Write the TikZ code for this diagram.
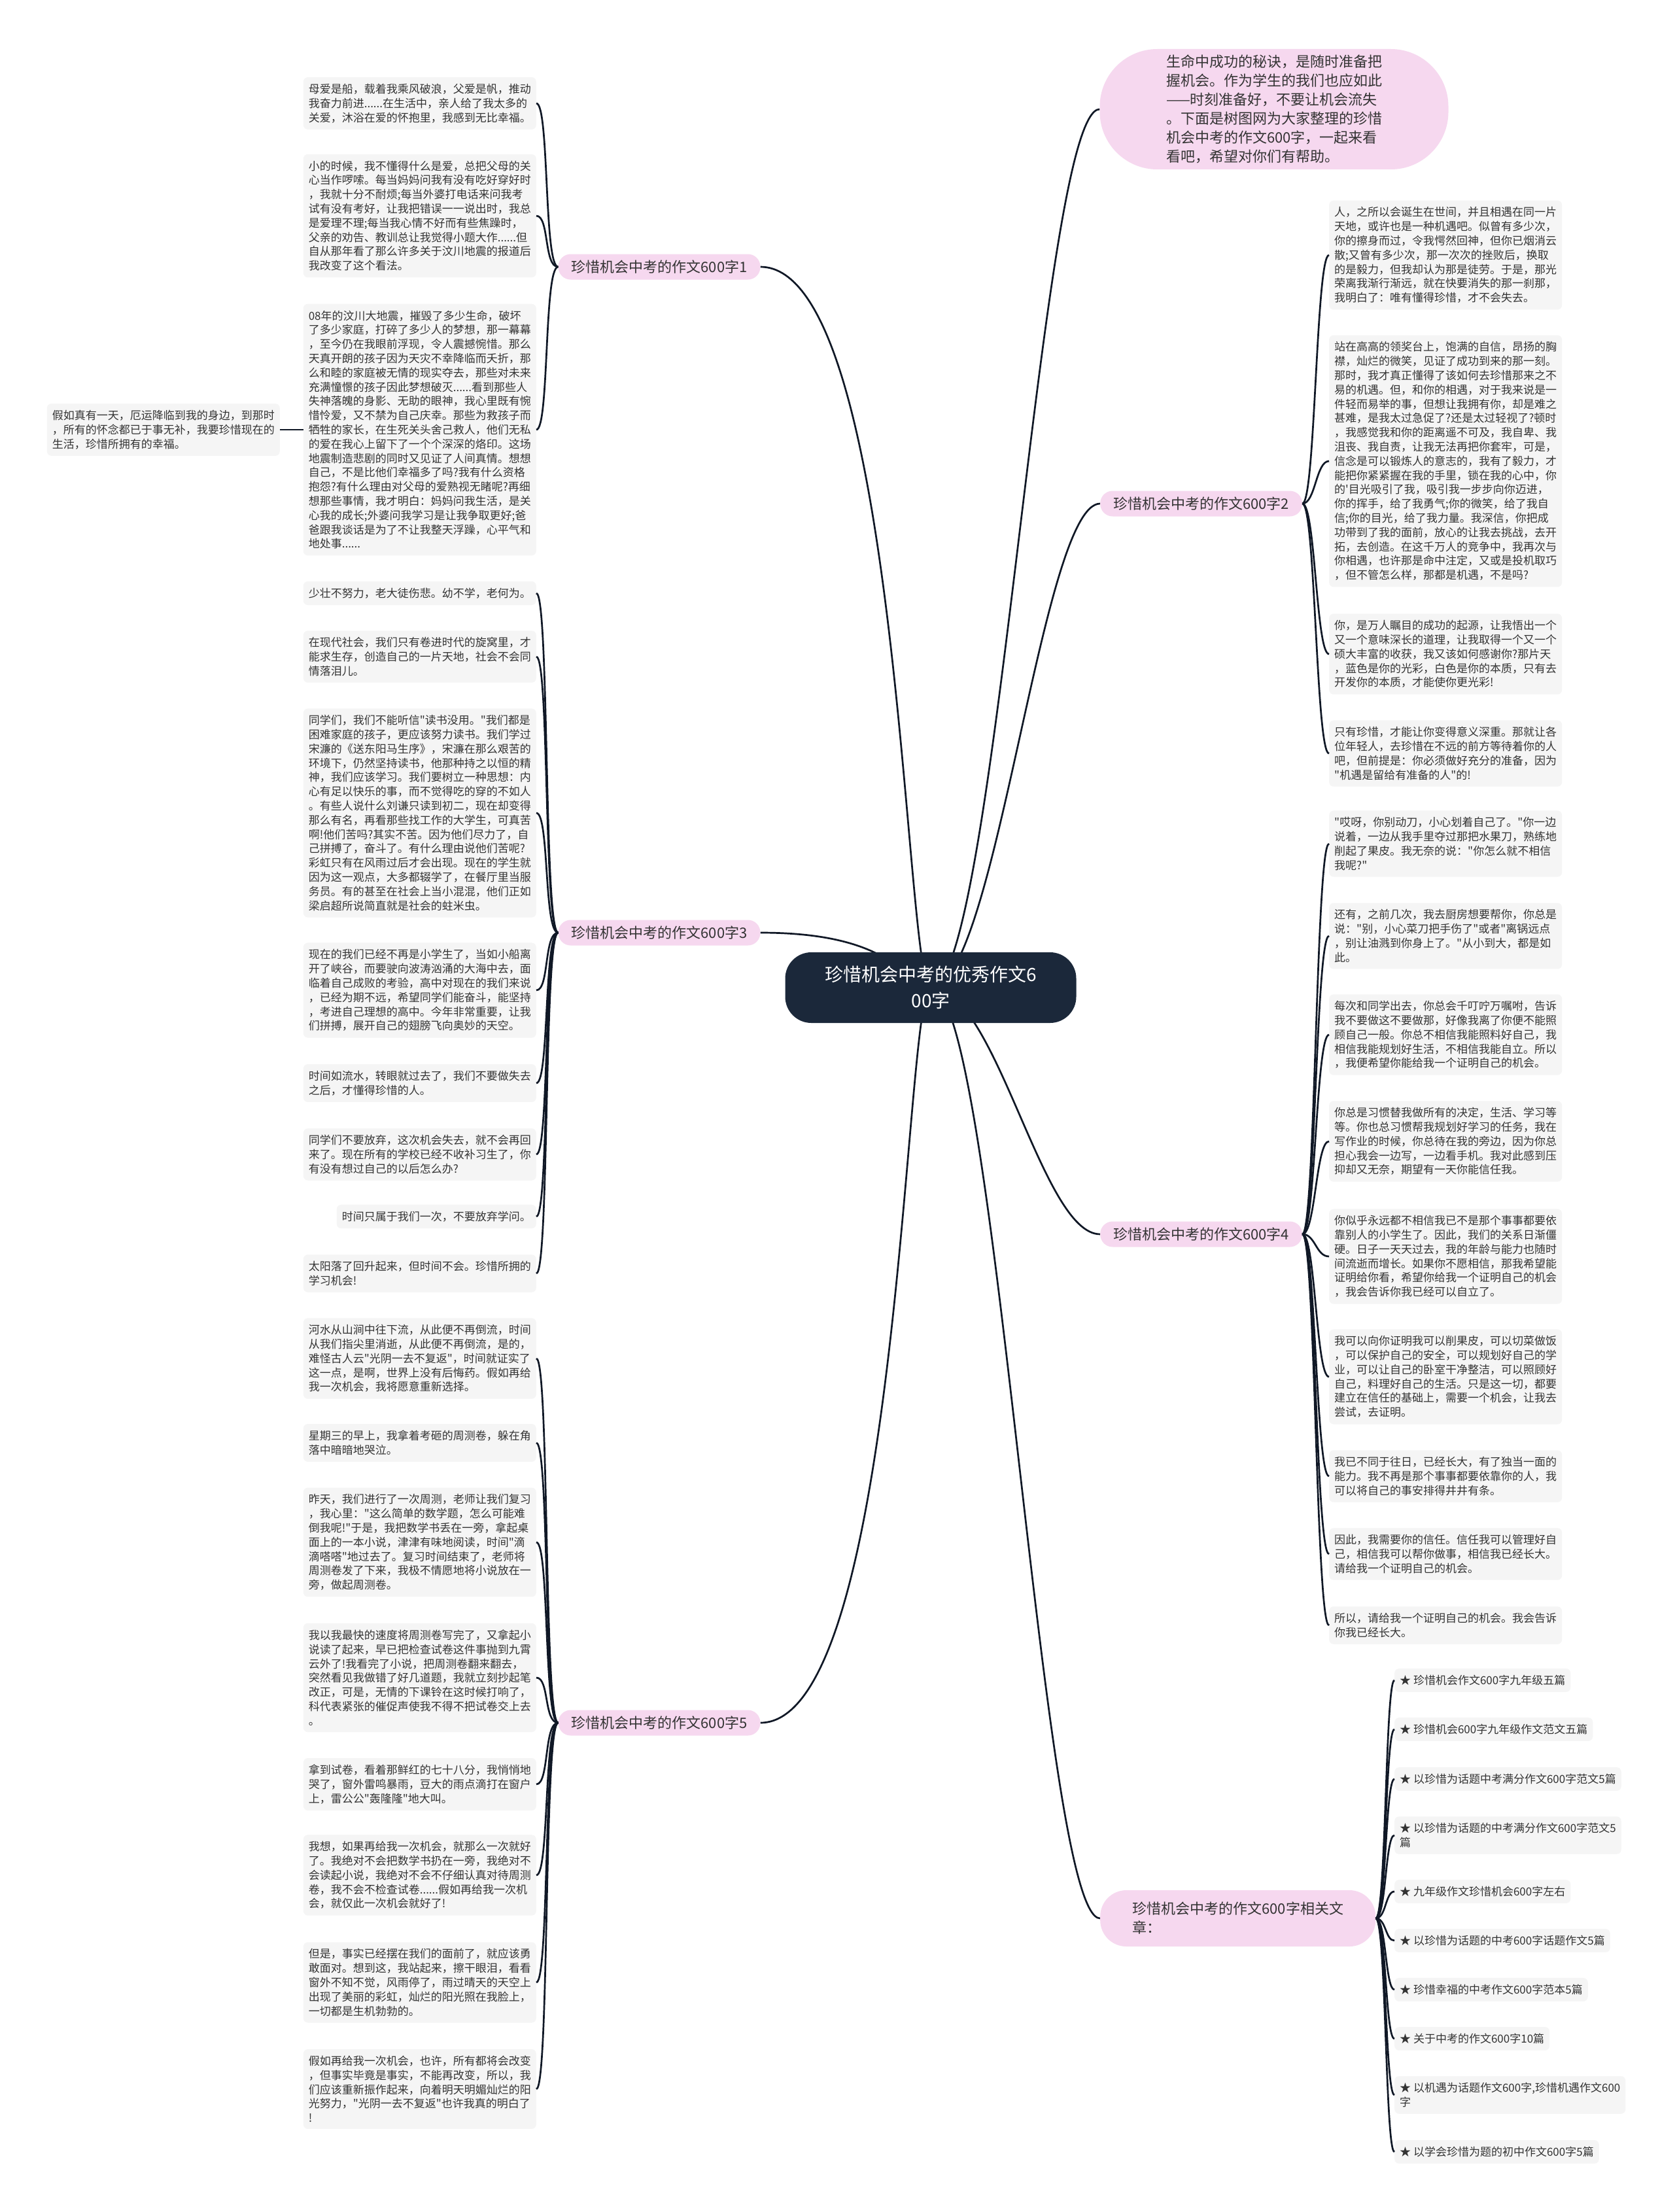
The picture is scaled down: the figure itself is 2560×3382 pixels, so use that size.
\documentclass[tikz,border=0pt]{standalone}
\usepackage{fontspec}
\usepackage{xcolor}
\usepackage{tikz}
\usetikzlibrary{positioning, backgrounds}
\newfontfamily\cjk{Noto Sans CJK SC}
\definecolor{rootnavy}{RGB}{27, 40, 58}
\definecolor{branchpink}{RGB}{246, 216, 239}
\definecolor{leafgray}{RGB}{245, 245, 245}
\definecolor{inkgray}{RGB}{51, 51, 51}
\definecolor{linenavy}{RGB}{16, 24, 38}

\begin{document}
\begin{tikzpicture}[x=1pt, y=-1pt,
    root/.style={fill=rootnavy, text=white, rounded corners=40pt, minimum width=445pt,
                 minimum height=108pt, align=center, font=\cjk\fontsize{28}{40}\selectfont},
    branch/.style={fill=branchpink, text=inkgray, rounded corners=19pt, minimum height=39pt,
                   inner xsep=20pt, inner ysep=5pt, align=left, font=\cjk\fontsize{22}{29}\selectfont},
    leaf/.style={fill=leafgray, text=inkgray, rounded corners=7pt, inner xsep=8pt,
                 inner ysep=10pt, align=left, font=\cjk\fontsize{17}{21.8}\selectfont},
    link/.style={draw=linenavy, line width=2.7pt}
]
    \node[root] (root) at (1423,1510) {珍惜机会中考的优秀作文6\\00字};

    \node[branch, minimum width=533pt, minimum height=184pt, rounded corners=88pt, inner xsep=0pt] (intro) at (1948,167)
        {生命中成功的秘诀，是随时准备把\\握机会。作为学生的我们也应如此\\——时刻准备好，不要让机会流失\\。下面是树图网为大家整理的珍惜\\机会中考的作文600字，一起来看\\看吧，希望对你们有帮助。};

    \node[branch] (essay1) at (1008,408) {珍惜机会中考的作文600字1};
    \node[branch, anchor=west] (essay2) at (1682,770) {珍惜机会中考的作文600字2};
    \node[branch] (essay3) at (1008,1426) {珍惜机会中考的作文600字3};
    \node[branch, anchor=west] (essay4) at (1682,1887) {珍惜机会中考的作文600字4};
    \node[branch] (essay5) at (1008,2634) {珍惜机会中考的作文600字5};
    \node[branch, anchor=west, minimum width=421pt, minimum height=86pt, rounded corners=40pt, inner xsep=34pt] (related) at (1682,2933)
        {珍惜机会中考的作文600字相关文\\章：};

    % essay 1
    \node[leaf, anchor=east] (e1a) at (820,158) {母爱是船，载着我乘风破浪，父爱是帆，推动\\我奋力前进......在生活中，亲人给了我太多的\\关爱，沐浴在爱的怀抱里，我感到无比幸福。};
    \node[leaf, anchor=east] (e1b) at (820,330) {小的时候，我不懂得什么是爱，总把父母的关\\心当作啰嗦。每当妈妈问我有没有吃好穿好时\\，我就十分不耐烦;每当外婆打电话来问我考\\试有没有考好，让我把错误一一说出时，我总\\是爱理不理;每当我心情不好而有些焦躁时，\\父亲的劝告、教训总让我觉得小题大作......但\\自从那年看了那么许多关于汶川地震的报道后\\我改变了这个看法。};
    \node[leaf, anchor=east] (e1c) at (820,657) {08年的汶川大地震，摧毁了多少生命，破坏\\了多少家庭，打碎了多少人的梦想，那一幕幕\\，至今仍在我眼前浮现，令人震撼惋惜。那么\\天真开朗的孩子因为天灾不幸降临而夭折，那\\么和睦的家庭被无情的现实夺去，那些对未来\\充满憧憬的孩子因此梦想破灭......看到那些人\\失神落魄的身影、无助的眼神，我心里既有惋\\惜怜爱，又不禁为自己庆幸。那些为救孩子而\\牺牲的家长，在生死关头舍己救人，他们无私\\的爱在我心上留下了一个个深深的烙印。这场\\地震制造悲剧的同时又见证了人间真情。想想\\自己，不是比他们幸福多了吗?我有什么资格\\抱怨?有什么理由对父母的爱熟视无睹呢?再细\\想那些事情，我才明白：妈妈问我生活，是关\\心我的成长;外婆问我学习是让我争取更好;爸\\爸跟我谈话是为了不让我整天浮躁，心平气和\\地处事......};
    \node[leaf, anchor=east] (e1x) at (428,657) {假如真有一天，厄运降临到我的身边，到那时\\，所有的怀念都已于事无补，我要珍惜现在的\\生活，珍惜所拥有的幸福。};

    % essay 2
    \node[leaf, anchor=west] (e2a) at (2032,390) {人，之所以会诞生在世间，并且相遇在同一片\\天地，或许也是一种机遇吧。似曾有多少次，\\你的擦身而过，令我愕然回神，但你已烟消云\\散;又曾有多少次，那一次次的挫败后，换取\\的是毅力，但我却认为那是徒劳。于是，那光\\荣离我渐行渐远，就在快要消失的那一刹那，\\我明白了：唯有懂得珍惜，才不会失去。};
    \node[leaf, anchor=west] (e2b) at (2032,705) {站在高高的领奖台上，饱满的自信，昂扬的胸\\襟，灿烂的微笑，见证了成功到来的那一刻。\\那时，我才真正懂得了该如何去珍惜那来之不\\易的机遇。但，和你的相遇，对于我来说是一\\件轻而易举的事，但想让我拥有你，却是难之\\甚难，是我太过急促了?还是太过轻视了?顿时\\，我感觉我和你的距离遥不可及，我自卑、我\\沮丧、我自责，让我无法再把你套牢，可是，\\信念是可以锻炼人的意志的，我有了毅力，才\\能把你紧紧握在我的手里，锁在我的心中，你\\的'目光吸引了我，吸引我一步步向你迈进，\\你的挥手，给了我勇气;你的微笑，给了我自\\信;你的目光，给了我力量。我深信，你把成\\功带到了我的面前，放心的让我去挑战，去开\\拓，去创造。在这千万人的竞争中，我再次与\\你相遇，也许那是命中注定，又或是投机取巧\\，但不管怎么样，那都是机遇，不是吗?};
    \node[leaf, anchor=west] (e2c) at (2032,1000) {你，是万人瞩目的成功的起源，让我悟出一个\\又一个意味深长的道理，让我取得一个又一个\\硕大丰富的收获，我又该如何感谢你?那片天\\，蓝色是你的光彩，白色是你的本质，只有去\\开发你的本质，才能使你更光彩!};
    \node[leaf, anchor=west] (e2d) at (2032,1152) {只有珍惜，才能让你变得意义深重。那就让各\\位年轻人，去珍惜在不远的前方等待着你的人\\吧，但前提是：你必须做好充分的准备，因为\\"机遇是留给有准备的人"的!};

    % essay 3
    \node[leaf, anchor=east] (e3a) at (820,907) {少壮不努力，老大徒伤悲。幼不学，老何为。};
    \node[leaf, anchor=east] (e3b) at (820,1004) {在现代社会，我们只有卷进时代的旋窝里，才\\能求生存，创造自己的一片天地，社会不会同\\情落泪儿。};
    \node[leaf, anchor=east] (e3c) at (820,1243) {同学们，我们不能听信"读书没用。"我们都是\\困难家庭的孩子，更应该努力读书。我们学过\\宋濂的《送东阳马生序》，宋濂在那么艰苦的\\环境下，仍然坚持读书，他那种持之以恒的精\\神，我们应该学习。我们要树立一种思想：内\\心有足以快乐的事，而不觉得吃的穿的不如人\\。有些人说什么刘谦只读到初二，现在却变得\\那么有名，再看那些找工作的大学生，可真苦\\啊!他们苦吗?其实不苦。因为他们尽力了，自\\己拼搏了，奋斗了。有什么理由说他们苦呢?\\彩虹只有在风雨过后才会出现。现在的学生就\\因为这一观点，大多都辍学了，在餐厅里当服\\务员。有的甚至在社会上当小混混，他们正如\\梁启超所说简直就是社会的蛀米虫。};
    \node[leaf, anchor=east] (e3d) at (820,1514) {现在的我们已经不再是小学生了，当如小船离\\开了峡谷，而要驶向波涛汹涌的大海中去，面\\临着自己成败的考验，高中对现在的我们来说\\，已经为期不远，希望同学们能奋斗，能坚持\\，考进自己理想的高中。今年非常重要，让我\\们拼搏，展开自己的翅膀飞向奥妙的天空。};
    \node[leaf, anchor=east] (e3e) at (820,1656) {时间如流水，转眼就过去了，我们不要做失去\\之后，才懂得珍惜的人。};
    \node[leaf, anchor=east] (e3f) at (820,1765) {同学们不要放弃，这次机会失去，就不会再回\\来了。现在所有的学校已经不收补习生了，你\\有没有想过自己的以后怎么办?};
    \node[leaf, anchor=east] (e3g) at (820,1860) {时间只属于我们一次，不要放弃学问。};
    \node[leaf, anchor=east] (e3h) at (820,1947) {太阳落了回升起来，但时间不会。珍惜所拥的\\学习机会!};

    % essay 4
    \node[leaf, anchor=west] (e4a) at (2032,1290) {"哎呀，你别动刀，小心划着自己了。"你一边\\说着，一边从我手里夺过那把水果刀，熟练地\\削起了果皮。我无奈的说："你怎么就不相信\\我呢?"};
    \node[leaf, anchor=west] (e4b) at (2032,1431) {还有，之前几次，我去厨房想要帮你，你总是\\说："别，小心菜刀把手伤了"或者"离锅远点\\，别让油溅到你身上了。"从小到大，都是如\\此。};
    \node[leaf, anchor=west] (e4c) at (2032,1582) {每次和同学出去，你总会千叮咛万嘱咐，告诉\\我不要做这不要做那，好像我离了你便不能照\\顾自己一般。你总不相信我能照料好自己，我\\相信我能规划好生活，不相信我能自立。所以\\，我便希望你能给我一个证明自己的机会。};
    \node[leaf, anchor=west] (e4d) at (2032,1745) {你总是习惯替我做所有的决定，生活、学习等\\等。你也总习惯帮我规划好学习的任务，我在\\写作业的时候，你总待在我的旁边，因为你总\\担心我会一边写，一边看手机。我对此感到压\\抑却又无奈，期望有一天你能信任我。};
    \node[leaf, anchor=west] (e4e) at (2032,1921) {你似乎永远都不相信我已不是那个事事都要依\\靠别人的小学生了。因此，我们的关系日渐僵\\硬。日子一天天过去，我的年龄与能力也随时\\间流逝而增长。如果你不愿相信，那我希望能\\证明给你看，希望你给我一个证明自己的机会\\，我会告诉你我已经可以自立了。};
    \node[leaf, anchor=west] (e4f) at (2032,2105) {我可以向你证明我可以削果皮，可以切菜做饭\\，可以保护自己的安全，可以规划好自己的学\\业，可以让自己的卧室干净整洁，可以照顾好\\自己，料理好自己的生活。只是这一切，都要\\建立在信任的基础上，需要一个机会，让我去\\尝试，去证明。};
    \node[leaf, anchor=west] (e4g) at (2032,2257) {我已不同于往日，已经长大，有了独当一面的\\能力。我不再是那个事事都要依靠你的人，我\\可以将自己的事安排得井井有条。};
    \node[leaf, anchor=west] (e4h) at (2032,2376) {因此，我需要你的信任。信任我可以管理好自\\己，相信我可以帮你做事，相信我已经长大。\\请给我一个证明自己的机会。};
    \node[leaf, anchor=west] (e4i) at (2032,2485) {所以，请给我一个证明自己的机会。我会告诉\\你我已经长大。};

    % essay 5
    \node[leaf, anchor=east] (e5a) at (820,2077) {河水从山涧中往下流，从此便不再倒流，时间\\从我们指尖里消逝，从此便不再倒流，是的，\\难怪古人云"光阴一去不复返"，时间就证实了\\这一点，是啊，世界上没有后悔药。假如再给\\我一次机会，我将愿意重新选择。};
    \node[leaf, anchor=east] (e5b) at (820,2206) {星期三的早上，我拿着考砸的周测卷，躲在角\\落中暗暗地哭泣。};
    \node[leaf, anchor=east] (e5c) at (820,2358) {昨天，我们进行了一次周测，老师让我们复习\\，我心里："这么简单的数学题，怎么可能难\\倒我呢!"于是，我把数学书丢在一旁，拿起桌\\面上的一本小说，津津有味地阅读，时间"滴\\滴嗒嗒"地过去了。复习时间结束了，老师将\\周测卷发了下来，我极不情愿地将小说放在一\\旁，做起周测卷。};
    \node[leaf, anchor=east] (e5d) at (820,2565) {我以我最快的速度将周测卷写完了，又拿起小\\说读了起来，早已把检查试卷这件事抛到九霄\\云外了!我看完了小说，把周测卷翻来翻去，\\突然看见我做错了好几道题，我就立刻抄起笔\\改正，可是，无情的下课铃在这时候打响了，\\科代表紧张的催促声使我不得不把试卷交上去\\。};
    \node[leaf, anchor=east] (e5e) at (820,2728) {拿到试卷，看着那鲜红的七十八分，我悄悄地\\哭了，窗外雷鸣暴雨，豆大的雨点滴打在窗户\\上，雷公公"轰隆隆"地大叫。};
    \node[leaf, anchor=east] (e5f) at (820,2867) {我想，如果再给我一次机会，就那么一次就好\\了。我绝对不会把数学书扔在一旁，我绝对不\\会读起小说，我绝对不会不仔细认真对待周测\\卷，我不会不检查试卷......假如再给我一次机\\会，就仅此一次机会就好了!};
    \node[leaf, anchor=east] (e5g) at (820,3031) {但是，事实已经摆在我们的面前了，就应该勇\\敢面对。想到这，我站起来，擦干眼泪，看看\\窗外不知不觉，风雨停了，雨过晴天的天空上\\出现了美丽的彩虹，灿烂的阳光照在我脸上，\\一切都是生机勃勃的。};
    \node[leaf, anchor=east] (e5h) at (820,3194) {假如再给我一次机会，也许，所有都将会改变\\，但事实毕竟是事实，不能再改变，所以，我\\们应该重新振作起来，向着明天明媚灿烂的阳\\光努力，"光阴一去不复返"也许我真的明白了\\!};

    % related list
    \node[leaf, anchor=west] (r1) at (2132,2569) {★ 珍惜机会作文600字九年级五篇};
    \node[leaf, anchor=west] (r2) at (2132,2644) {★ 珍惜机会600字九年级作文范文五篇};
    \node[leaf, anchor=west] (r3) at (2132,2720) {★ 以珍惜为话题中考满分作文600字范文5篇};
    \node[leaf, anchor=west] (r4) at (2132,2806) {★ 以珍惜为话题的中考满分作文600字范文5\\篇};
    \node[leaf, anchor=west] (r5) at (2132,2892) {★ 九年级作文珍惜机会600字左右};
    \node[leaf, anchor=west] (r6) at (2132,2967) {★ 以珍惜为话题的中考600字话题作文5篇};
    \node[leaf, anchor=west] (r7) at (2132,3042) {★ 珍惜幸福的中考作文600字范本5篇};
    \node[leaf, anchor=west] (r8) at (2132,3117) {★ 关于中考的作文600字10篇};
    \node[leaf, anchor=west] (r9) at (2132,3203) {★ 以机遇为话题作文600字,珍惜机遇作文600\\字};
    \node[leaf, anchor=west] (r10) at (2132,3290) {★ 以学会珍惜为题的初中作文600字5篇};

    \begin{pgfonlayer}{background}
        \fill[white] (0,0) rectangle (2560,3382);
        \draw[link] (root.center) .. controls +(100,0) and +(-90,0) .. (intro.west);
        \draw[link] (root.center) .. controls +(-40,0) and +(215,0) .. (essay1.east);
        \draw[link] (root.center) .. controls +(100,0) and +(-90,0) .. (essay2.west);
        \draw[link] (root.center) .. controls +(-40,0) and +(215,0) .. (essay3.east);
        \draw[link] (root.center) .. controls +(100,0) and +(-90,0) .. (essay4.west);
        \draw[link] (root.center) .. controls +(-40,0) and +(215,0) .. (essay5.east);
        \draw[link] (root.center) .. controls +(100,0) and +(-90,0) .. (related.west);
    \end{pgfonlayer}

    \draw[link] (essay1.west) .. controls +(-22,0) and +(20,0) .. (e1a.east);
    \draw[link] (essay1.west) .. controls +(-22,0) and +(20,0) .. (e1b.east);
    \draw[link] (essay1.west) .. controls +(-22,0) and +(20,0) .. (e1c.east);
    \draw[link] (e1c.west) -- (e1x.east);

    \draw[link] (essay2.east) .. controls +(20,0) and +(-20,0) .. (e2a.west);
    \draw[link] (essay2.east) .. controls +(20,0) and +(-20,0) .. (e2b.west);
    \draw[link] (essay2.east) .. controls +(20,0) and +(-20,0) .. (e2c.west);
    \draw[link] (essay2.east) .. controls +(20,0) and +(-20,0) .. (e2d.west);

    \draw[link] (essay3.west) .. controls +(-22,0) and +(20,0) .. (e3a.east);
    \draw[link] (essay3.west) .. controls +(-22,0) and +(20,0) .. (e3b.east);
    \draw[link] (essay3.west) .. controls +(-22,0) and +(20,0) .. (e3c.east);
    \draw[link] (essay3.west) .. controls +(-22,0) and +(20,0) .. (e3d.east);
    \draw[link] (essay3.west) .. controls +(-22,0) and +(20,0) .. (e3e.east);
    \draw[link] (essay3.west) .. controls +(-22,0) and +(20,0) .. (e3f.east);
    \draw[link] (essay3.west) .. controls +(-22,0) and +(20,0) .. (e3g.east);
    \draw[link] (essay3.west) .. controls +(-22,0) and +(20,0) .. (e3h.east);

    \draw[link] (essay4.east) .. controls +(20,0) and +(-20,0) .. (e4a.west);
    \draw[link] (essay4.east) .. controls +(20,0) and +(-20,0) .. (e4b.west);
    \draw[link] (essay4.east) .. controls +(20,0) and +(-20,0) .. (e4c.west);
    \draw[link] (essay4.east) .. controls +(20,0) and +(-20,0) .. (e4d.west);
    \draw[link] (essay4.east) .. controls +(20,0) and +(-20,0) .. (e4e.west);
    \draw[link] (essay4.east) .. controls +(20,0) and +(-20,0) .. (e4f.west);
    \draw[link] (essay4.east) .. controls +(20,0) and +(-20,0) .. (e4g.west);
    \draw[link] (essay4.east) .. controls +(20,0) and +(-20,0) .. (e4h.west);
    \draw[link] (essay4.east) .. controls +(20,0) and +(-20,0) .. (e4i.west);

    \draw[link] (essay5.west) .. controls +(-22,0) and +(20,0) .. (e5a.east);
    \draw[link] (essay5.west) .. controls +(-22,0) and +(20,0) .. (e5b.east);
    \draw[link] (essay5.west) .. controls +(-22,0) and +(20,0) .. (e5c.east);
    \draw[link] (essay5.west) .. controls +(-22,0) and +(20,0) .. (e5d.east);
    \draw[link] (essay5.west) .. controls +(-22,0) and +(20,0) .. (e5e.east);
    \draw[link] (essay5.west) .. controls +(-22,0) and +(20,0) .. (e5f.east);
    \draw[link] (essay5.west) .. controls +(-22,0) and +(20,0) .. (e5g.east);
    \draw[link] (essay5.west) .. controls +(-22,0) and +(20,0) .. (e5h.east);

    \draw[link] (related.east) .. controls +(16,0) and +(-14,0) .. (r1.west);
    \draw[link] (related.east) .. controls +(16,0) and +(-14,0) .. (r2.west);
    \draw[link] (related.east) .. controls +(16,0) and +(-14,0) .. (r3.west);
    \draw[link] (related.east) .. controls +(16,0) and +(-14,0) .. (r4.west);
    \draw[link] (related.east) .. controls +(16,0) and +(-14,0) .. (r5.west);
    \draw[link] (related.east) .. controls +(16,0) and +(-14,0) .. (r6.west);
    \draw[link] (related.east) .. controls +(16,0) and +(-14,0) .. (r7.west);
    \draw[link] (related.east) .. controls +(16,0) and +(-14,0) .. (r8.west);
    \draw[link] (related.east) .. controls +(16,0) and +(-14,0) .. (r9.west);
    \draw[link] (related.east) .. controls +(16,0) and +(-14,0) .. (r10.west);
\end{tikzpicture}
\end{document}
